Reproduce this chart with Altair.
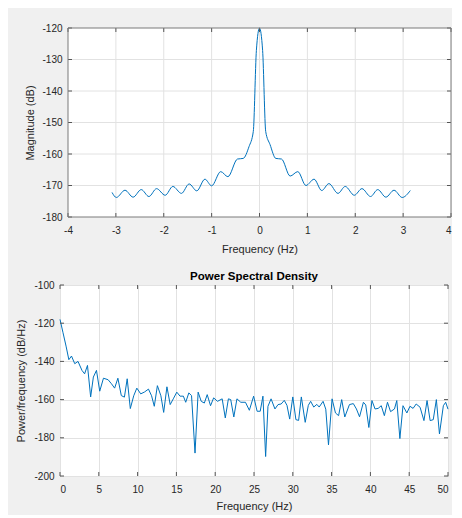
import altair as alt
import pandas as pd

# ---- top panel: magnitude response ----
top_freq = [-3.08, -2.99, -2.81, -2.64, -2.47, -2.31, -2.15, -1.97, -1.81, -1.63,
            -1.47, -1.31, -1.14, -1.00, -0.81, -0.66, -0.46, -0.34, -0.22, -0.13,
            -0.065, 0.0, 0.065, 0.13, 0.22, 0.34, 0.46, 0.64, 0.80, 0.97,
            1.14, 1.30, 1.45, 1.64, 1.79, 1.98, 2.14, 2.32, 2.47, 2.64,
            2.81, 2.98, 3.15]
top_mag = [-172.2, -173.8, -171.5, -173.7, -171.3, -173.5, -171.0, -173.1, -170.3, -172.5,
           -169.5, -171.7, -168.0, -170.1, -165.6, -167.2, -161.6, -161.4, -157.7, -152.9,
           -127.1, -120.0, -127.1, -152.9, -157.0, -161.4, -161.6, -167.0, -165.6, -170.0,
           -168.0, -171.6, -169.4, -172.5, -170.3, -173.1, -171.0, -173.5, -171.3, -173.7,
           -171.5, -173.8, -171.6]
top_xticks = [-4, -3, -2, -1, 0, 1, 2, 3, 4]
top_yticks = [-180, -170, -160, -150, -140, -130, -120]

# ---- bottom panel: power spectral density ----
psd_freq = [0.0, 0.39, 0.78, 1.14, 1.48, 1.9, 2.32, 2.83, 3.17, 3.54,
            3.95, 4.3, 4.7, 5.12, 5.6, 6.2, 6.63, 7.04, 7.46, 7.9,
            8.3, 8.66, 9.06, 9.5, 9.9, 10.4, 10.9, 11.4, 11.8, 12.15,
            12.55, 13.0, 13.36, 13.78, 14.2, 14.6, 15.05, 15.47, 15.9, 16.2,
            16.6, 16.95, 17.4, 17.8, 18.2, 18.6, 18.97, 19.4, 19.8, 20.3,
            20.9, 21.3, 21.7, 22.0, 22.4, 22.8, 23.3, 23.9, 24.4, 24.95,
            25.4, 25.8, 26.15, 26.5, 26.8, 27.2, 27.7, 28.1, 28.5, 28.9,
            29.25, 29.6, 30.0, 30.4, 30.75, 31.1, 31.6, 32.0, 32.3, 32.7,
            33.1, 33.4, 33.9, 34.25, 34.6, 35.06, 35.5, 35.9, 36.3, 36.7,
            37.3, 37.8, 38.2, 38.6, 39.1, 39.4, 39.8, 40.2, 40.6, 41.0,
            41.4, 41.8, 42.2, 42.6, 43.1, 43.4, 43.8, 44.2, 44.7, 45.1,
            45.5, 45.9, 46.4, 46.9, 47.3, 47.7, 48.1, 48.5, 48.9, 49.4,
            49.7, 50.0]
psd_db = [-118.0, -125.0, -132.0, -139.1, -137.2, -141.2, -140.0, -144.7, -146.5, -142.1,
          -158.6, -148.2, -144.7, -155.6, -148.8, -149.6, -151.7, -154.0, -148.8, -157.9,
          -158.7, -149.1, -164.7, -158.0, -154.0, -157.0, -156.0, -154.5, -158.0, -163.5,
          -152.7, -158.0, -166.7, -153.3, -162.6, -159.6, -156.1, -158.2, -158.2, -161.4,
          -156.5, -157.9, -188.0, -156.1, -160.9, -161.8, -157.4, -163.2, -159.1, -160.9,
          -159.6, -169.6, -159.6, -160.0, -169.1, -159.6, -161.4, -161.4, -165.6, -158.2,
          -166.1, -166.1, -158.2, -189.8, -163.5, -159.6, -164.9, -162.6, -162.3, -160.4,
          -163.0, -170.2, -158.6, -170.5, -170.9, -158.6, -171.9, -163.0, -160.9, -163.9,
          -162.5, -163.9, -160.9, -165.0, -183.7, -159.6, -167.0, -168.4, -160.0, -169.1,
          -162.6, -162.1, -164.9, -169.0, -161.4, -162.8, -174.6, -160.5, -164.9, -164.6,
          -163.2, -168.4, -161.4, -166.3, -164.9, -160.5, -180.4, -163.2, -167.0, -163.5,
          -164.6, -162.3, -164.0, -171.0, -160.5, -171.0, -170.5, -160.0, -178.0, -163.2,
          -161.4, -165.0]
psd_xticks = [0, 5, 10, 15, 20, 25, 30, 35, 40, 45, 50]
psd_yticks = [-200, -180, -160, -140, -120, -100]

LINE = "#0072BD"
TICK = "#555555"
GRID = "#e2e2e2"
FRAME = "#7a7a7a"
TL = 4
LABEL_EXPR = "'' + datum.value"

# ---------------- top panel (frame inset 8px from its plot origin) ----------------
SHIFT = 8
TW_FRAME, TH = 383, 189
TW = TW_FRAME + SHIFT
px_per_unit = TW_FRAME / (top_xticks[-1] - top_xticks[0])
t_xs = alt.Scale(domain=[top_xticks[0] - SHIFT / px_per_unit, top_xticks[-1]],
                 nice=False, zero=False)
t_ys = alt.Scale(domain=[top_yticks[0], top_yticks[-1]], nice=False, zero=False)
t_xaxis = alt.Axis(values=top_xticks, title="Frequency (Hz)", labelExpr=LABEL_EXPR,
                   grid=False, titleX=SHIFT + TW_FRAME / 2, titlePadding=8)
t_yaxis = alt.Axis(values=top_yticks, title="Magnitude (dB)", labelExpr=LABEL_EXPR,
                   grid=False, offset=-SHIFT, titlePadding=6)

frame_df = pd.DataFrame({"x0": [top_xticks[0]], "x1": [top_xticks[-1]],
                         "y0": [top_yticks[0]], "y1": [top_yticks[-1]]})
bg = alt.Chart(frame_df).mark_rect(fill="#ffffff").encode(
    x=alt.X("x0:Q", scale=t_xs, axis=t_xaxis), x2="x1",
    y=alt.Y("y0:Q", scale=t_ys, axis=t_yaxis), y2="y1")
vgrid = alt.Chart(pd.DataFrame({"f": top_xticks[1:-1], "y0": top_yticks[0],
                                "y1": top_yticks[-1]})).mark_rule(
    color=GRID, strokeWidth=1).encode(
    x=alt.X("f:Q", scale=t_xs, axis=t_xaxis),
    y=alt.Y("y0:Q", scale=t_ys, axis=t_yaxis), y2="y1")
hgrid = alt.Chart(pd.DataFrame({"v": top_yticks[1:-1], "x0": top_xticks[0],
                                "x1": top_xticks[-1]})).mark_rule(
    color=GRID, strokeWidth=1).encode(
    y=alt.Y("v:Q", scale=t_ys, axis=t_yaxis),
    x=alt.X("x0:Q", scale=t_xs, axis=t_xaxis), x2="x1")
t_line = alt.Chart(pd.DataFrame({"f": top_freq, "v": top_mag})).mark_line(
    color=LINE, strokeWidth=1, interpolate="monotone").encode(
    x=alt.X("f:Q", scale=t_xs, axis=t_xaxis),
    y=alt.Y("v:Q", scale=t_ys, axis=t_yaxis))
t_tx = pd.DataFrame({"f": top_xticks})
t_ty = pd.DataFrame({"v": top_yticks})
t_xb = alt.Chart(t_tx).mark_rule(color=TICK).encode(
    x=alt.X("f:Q", scale=t_xs, axis=t_xaxis), y=alt.value(TH), y2=alt.value(TH - TL))
t_xt = alt.Chart(t_tx).mark_rule(color=TICK).encode(
    x=alt.X("f:Q", scale=t_xs, axis=t_xaxis), y=alt.value(0), y2=alt.value(TL))
t_yl = alt.Chart(t_ty).mark_rule(color=TICK).encode(
    y=alt.Y("v:Q", scale=t_ys, axis=t_yaxis), x=alt.value(SHIFT), x2=alt.value(SHIFT + TL))
t_yr = alt.Chart(t_ty).mark_rule(color=TICK).encode(
    y=alt.Y("v:Q", scale=t_ys, axis=t_yaxis), x=alt.value(TW - TL), x2=alt.value(TW))
frame = alt.Chart(frame_df).mark_rect(fill="transparent", stroke=FRAME, strokeWidth=1).encode(
    x=alt.X("x0:Q", scale=t_xs, axis=t_xaxis), x2="x1",
    y=alt.Y("y0:Q", scale=t_ys, axis=t_yaxis), y2="y1")

top = alt.layer(bg, vgrid, hgrid, t_line, t_xb, t_xt, t_yl, t_yr, frame).properties(
    width=TW, height=TH,
    view=alt.ViewBackground(fill="transparent", stroke="transparent"))

# ---------------- bottom panel ----------------
BW, BH = 388, 191
b_xs = alt.Scale(domain=[psd_xticks[0], psd_xticks[-1]], nice=False, zero=False)
b_ys = alt.Scale(domain=[psd_yticks[0], psd_yticks[-1]], nice=False, zero=False)
b_xaxis = alt.Axis(values=psd_xticks, title="Frequency (Hz)", labelExpr=LABEL_EXPR)
b_yaxis = alt.Axis(values=psd_yticks, title="Power/frequency (dB/Hz)",
                   labelExpr=LABEL_EXPR, titlePadding=7)
b_line = alt.Chart(pd.DataFrame({"f": psd_freq, "v": psd_db})).mark_line(
    color=LINE, strokeWidth=1).encode(
    x=alt.X("f:Q", scale=b_xs, axis=b_xaxis),
    y=alt.Y("v:Q", scale=b_ys, axis=b_yaxis))
b_tx = pd.DataFrame({"f": psd_xticks})
b_ty = pd.DataFrame({"v": psd_yticks})
b_xb = alt.Chart(b_tx).mark_rule(color=TICK).encode(
    x=alt.X("f:Q", scale=b_xs, axis=b_xaxis), y=alt.value(BH), y2=alt.value(BH - TL))
b_xt = alt.Chart(b_tx).mark_rule(color=TICK).encode(
    x=alt.X("f:Q", scale=b_xs, axis=b_xaxis), y=alt.value(0), y2=alt.value(TL))
b_yl = alt.Chart(b_ty).mark_rule(color=TICK).encode(
    y=alt.Y("v:Q", scale=b_ys, axis=b_yaxis), x=alt.value(0), x2=alt.value(TL))
b_yr = alt.Chart(b_ty).mark_rule(color=TICK).encode(
    y=alt.Y("v:Q", scale=b_ys, axis=b_yaxis), x=alt.value(BW - TL), x2=alt.value(BW))
bottom = alt.layer(b_line, b_xb, b_xt, b_yl, b_yr).properties(
    width=BW, height=BH,
    title=alt.TitleParams("Power Spectral Density", fontSize=11.5, fontWeight="bold",
                          font="Liberation Sans", color="#000000", offset=-2))

chart = alt.vconcat(top, bottom, spacing=15).properties(
    background="#f0f0f0",
    padding={"left": 7, "top": 14, "right": 0, "bottom": 3},
).configure_view(
    fill="#ffffff", stroke=FRAME, strokeWidth=1
).configure_axis(
    domain=False, ticks=False, grid=True, gridColor=GRID, gridWidth=1,
    labelFont="Liberation Sans", labelFontSize=10, labelColor="#262626",
    labelPadding=6, titleFont="Liberation Sans", titleFontSize=11,
    titleFontWeight="normal", titleColor="#262626", titlePadding=6,
).configure_axisX(labelPadding=8)

chart.save("out.html", embed_options={"renderer": "svg", "actions": False})
